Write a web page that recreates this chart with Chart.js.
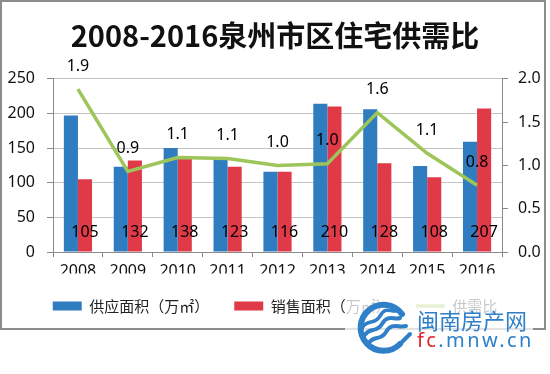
<!DOCTYPE html>
<html><head><meta charset="utf-8">
<script src="https://cdn.jsdelivr.net/npm/chart.js@4"></script>
<style>
html,body{margin:0;padding:0;background:#fff;}
#wrap{position:relative;width:550px;height:374px;overflow:hidden;}
#c{position:absolute;left:0;top:0;}
#wmbg{position:absolute;left:345px;top:295px;width:188px;height:62px;background:rgba(255,255,255,0.75);}
#logo{position:absolute;left:350px;top:300px;}
#wm1{position:absolute;left:417px;top:308px;font:22px/22px "Noto Sans CJK SC",sans-serif;color:#2f80c8;white-space:nowrap;}
#wm2{position:absolute;left:417px;top:330px;font:20px/20px "Noto Sans",sans-serif;letter-spacing:2.4px;color:#2f80c8;white-space:nowrap;}
#wm2 span{color:#e2242f;}
</style></head><body>
<div id="wrap">
<canvas id="c" width="550" height="374"></canvas>
<div id="wmbg"></div>
<svg id="logo" width="64" height="58" viewBox="0 0 64 58">
  <path d="M52 14 A23 23 0 1 0 50 44" fill="none" stroke="#2f80c8" stroke-width="6" stroke-linecap="round"/>
  <path d="M50 44 Q56 38 60 34" fill="none" stroke="#2f80c8" stroke-width="4" stroke-linecap="round"/>
  <path d="M14 36 C20 26 26 34 32 24 S44 20 50 18" fill="none" stroke="#2f80c8" stroke-width="4" stroke-linecap="round"/>
  <path d="M18 44 C24 34 30 42 36 32 S48 28 56 26" fill="none" stroke="#2f80c8" stroke-width="4" stroke-linecap="round"/>
  <path d="M12 28 C18 18 24 26 30 16 S40 12 46 11" fill="none" stroke="#2f80c8" stroke-width="3.5" stroke-linecap="round"/>
</svg>
<div id="wm1">闽南房产网</div>
<div id="wm2"><span>fc</span>.mnw.cn</div>
</div>
<script>
const years = ['2008','2009','2010','2011','2012','2013','2014','2015','2016'];
const supplyArea = [197, 123, 150, 133, 116, 214, 206, 124, 159];
const salesArea = [105, 132, 138, 123, 116, 210, 128, 108, 207];
const supplyDemandRatio = [1.88, 0.93, 1.09, 1.08, 1.00, 1.02, 1.61, 1.14, 0.77];
const leftTicks = [0, 50, 100, 150, 200, 250];
const rightTicks = [0, 0.5, 1.0, 1.5, 2.0];

const tickFont = {family: '"Noto Sans", sans-serif', size: 16};

const framePlugin = {
  id: 'frame',
  beforeDraw(chart) {
    const ctx = chart.ctx;
    ctx.save();
    ctx.fillStyle = '#fff';
    ctx.fillRect(0, 0, 550, 374);
    ctx.strokeStyle = '#8c8c8c';
    ctx.lineWidth = 2;
    ctx.strokeRect(1, 1, 544, 328);
    ctx.restore();
  }
};

const labelPlugin = {
  id: 'valueLabels',
  afterDatasetsDraw(chart) {
    const ctx = chart.ctx;
    ctx.save();
    ctx.font = '16px "Noto Sans", sans-serif';
    ctx.fillStyle = '#000';
    ctx.textAlign = 'center';
    ctx.textBaseline = 'middle';
    const base = chart.scales.y.getPixelForValue(0);
    chart.getDatasetMeta(1).data.forEach((el, i) => {
      ctx.fillText(String(salesArea[i]), el.x, base - 20);
    });
    chart.getDatasetMeta(2).data.forEach((el, i) => {
      ctx.fillText(supplyDemandRatio[i].toFixed(1), el.x, el.y - 23);
    });
    ctx.restore();
  }
};

new Chart(document.getElementById('c'), {
  data: {
    labels: years,
    datasets: [
      {type: 'bar', label: '供应面积（万㎡）', data: supplyArea, backgroundColor: '#2f7dc0',
       borderWidth: 0, yAxisID: 'y', order: 1, pointStyle: 'rect',
       categoryPercentage: 0.565, barPercentage: 1.0},
      {type: 'bar', label: '销售面积（万㎡）', data: salesArea, backgroundColor: '#e03a48',
       borderWidth: 0, yAxisID: 'y', order: 1, pointStyle: 'rect',
       categoryPercentage: 0.565, barPercentage: 1.0},
      {type: 'line', label: '供需比', data: supplyDemandRatio, borderColor: '#9dc55a',
       backgroundColor: '#9dc55a', borderWidth: 3.5, pointRadius: 0, pointStyle: 'line',
       tension: 0, yAxisID: 'y2', order: 0}
    ]
  },
  options: {
    responsive: false,
    devicePixelRatio: 1,
    animation: false,
    layout: {padding: {left: 0, right: 0, top: 0, bottom: 50.5}},
    plugins: {
      title: {display: true, text: '2008-2016泉州市区住宅供需比', color: '#111',
        font: {family: '"Noto Sans CJK SC", sans-serif', size: 29, weight: 'bold', lineHeight: 1.2},
        padding: {top: 19, bottom: 25}},
      legend: {position: 'bottom',
        labels: {usePointStyle: true, pointStyleWidth: 29, boxHeight: 9, padding: 25, color: '#222',
          sort: (a, b) => a.datasetIndex - b.datasetIndex,
          font: {family: '"Noto Sans CJK SC", sans-serif', size: 15}}},
      tooltip: {enabled: false}
    },
    scales: {
      x: {
        grid: {display: true, drawOnChartArea: false, offset: true, tickLength: 5, tickColor: '#8a8a8a'},
        border: {color: '#8a8a8a'},
        ticks: {font: tickFont, color: '#111', padding: 5, maxRotation: 0},
        afterFit(s) { s.height = 21.5; }
      },
      y: {
        position: 'left', min: 0, max: 250,
        afterBuildTicks(s) { s.ticks = leftTicks.map(v => ({value: v})); },
        grid: {color: '#c4c4c4', tickLength: 6, tickColor: '#8a8a8a'},
        border: {color: '#8a8a8a'},
        ticks: {font: tickFont, color: '#111', padding: 12},
        afterFit(s) { s.width = 53; }
      },
      y2: {
        position: 'right', min: 0, max: 2,
        afterBuildTicks(s) { s.ticks = rightTicks.map(v => ({value: v})); },
        grid: {drawOnChartArea: false, tickLength: 6, tickColor: '#8a8a8a'},
        border: {color: '#8a8a8a'},
        ticks: {font: tickFont, color: '#111', padding: 10, callback: v => Number(v).toFixed(1)},
        afterFit(s) { s.width = 48; }
      }
    }
  },
  plugins: [framePlugin, labelPlugin]
});
</script>
</body></html>
